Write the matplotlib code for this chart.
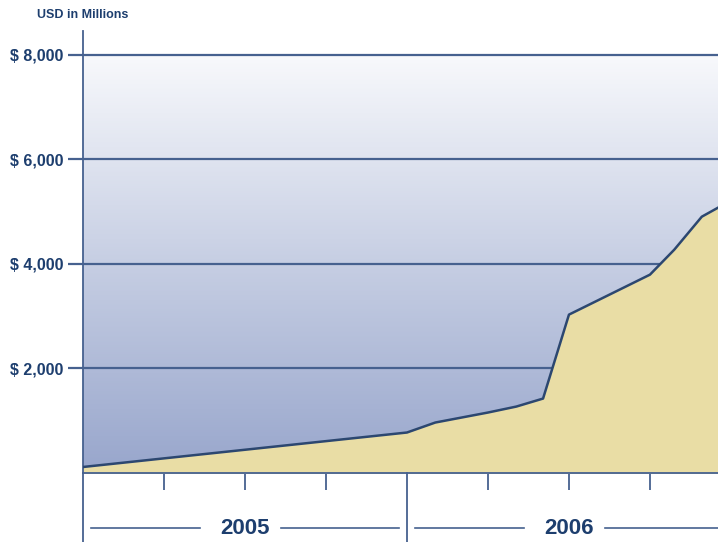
import numpy as np
import matplotlib.pyplot as plt
from matplotlib.colors import LinearSegmentedColormap
from matplotlib.transforms import blended_transform_factory

plt.rcParams['font.family'] = ['Liberation Sans', 'DejaVu Sans']

# quarters since start of 2005, value in USD millions
quarters = [0, 4, 4.35, 5, 5.35, 5.68, 6, 7, 7.3, 7.64, 7.84]
values = [115, 774, 965, 1156, 1270, 1423, 3028, 3792, 4269, 4900, 5072]
ytick_vals = [2000, 4000, 6000, 8000]
ytick_labels = ['$ 2,000', '$ 4,000', '$ 6,000', '$ 8,000']
years = ['2005', '2006']

navy = '#1d3e6e'
grid_c = '#46618f'
W, H = 718, 542

fig = plt.figure(figsize=(W / 100, H / 100), dpi=100)
ax = fig.add_axes([83 / W, (H - 473) / H, (W - 83) / W, (473 - 31) / H])
xmax = 7.84
ax.set_xlim(0, xmax)
ax.set_ylim(0, 8450)

# background gradient
cmap = LinearSegmentedColormap.from_list('bg', ['#98a6cc', '#c6cee3', '#f8f9fc'])
grad = np.linspace(0, 1, 256).reshape(-1, 1)
ax.imshow(grad, extent=[0, xmax, 0, 8000], origin='lower', aspect='auto', cmap=cmap, zorder=0)

ax.fill_between(quarters, values, 0, color='#e9dda5', zorder=2)
ax.plot(quarters, values, color='#2c4770', lw=1.8, zorder=3)

for v in ytick_vals:
    ax.axhline(v, color=grid_c, lw=1.6, zorder=1)

ax.set_yticks(ytick_vals)
ax.set_yticklabels(ytick_labels, fontsize=11.5, fontweight='bold', color=navy)
ax.tick_params(axis='y', length=11, width=1.6, color=grid_c, pad=3)

ax.set_xticks([1, 2, 3, 5, 6, 7])
ax.set_xticklabels([])
ax.tick_params(axis='x', length=12, width=1.3, color=grid_c, direction='out')

for s in ['top', 'right']:
    ax.spines[s].set_visible(False)
ax.spines['left'].set_color(grid_c)
ax.spines['left'].set_linewidth(1.3)
ax.spines['bottom'].set_color(grid_c)
ax.spines['bottom'].set_linewidth(1.3)

# separators below the axis
tr = blended_transform_factory(ax.transData, fig.transFigure)
for xv in [0, 4]:
    ax.plot([xv, xv], [0, (H - 473) / H], transform=tr, color=grid_c, lw=1.3, clip_on=False)

# year labels with rules
yl = (H - 528) / H
for i, yr in enumerate(years):
    c = 4 * i + 2
    fig.text(ax.transData.transform((c, 0))[0] / W, yl, yr, ha='center', va='center',
             fontsize=16, fontweight='bold', color=navy)
    ax.plot([4 * i + 0.1, c - 0.55], [yl, yl], transform=tr, color=grid_c, lw=1.2, clip_on=False)
    ax.plot([c + 0.45, 4 * i + 3.9], [yl, yl], transform=tr, color=grid_c, lw=1.2, clip_on=False)

fig.text(37 / W, (H - 15) / H, 'USD in Millions', ha='left', va='center',
         fontsize=9, fontweight='bold', color=navy)

fig.savefig('out.png', dpi=100)
